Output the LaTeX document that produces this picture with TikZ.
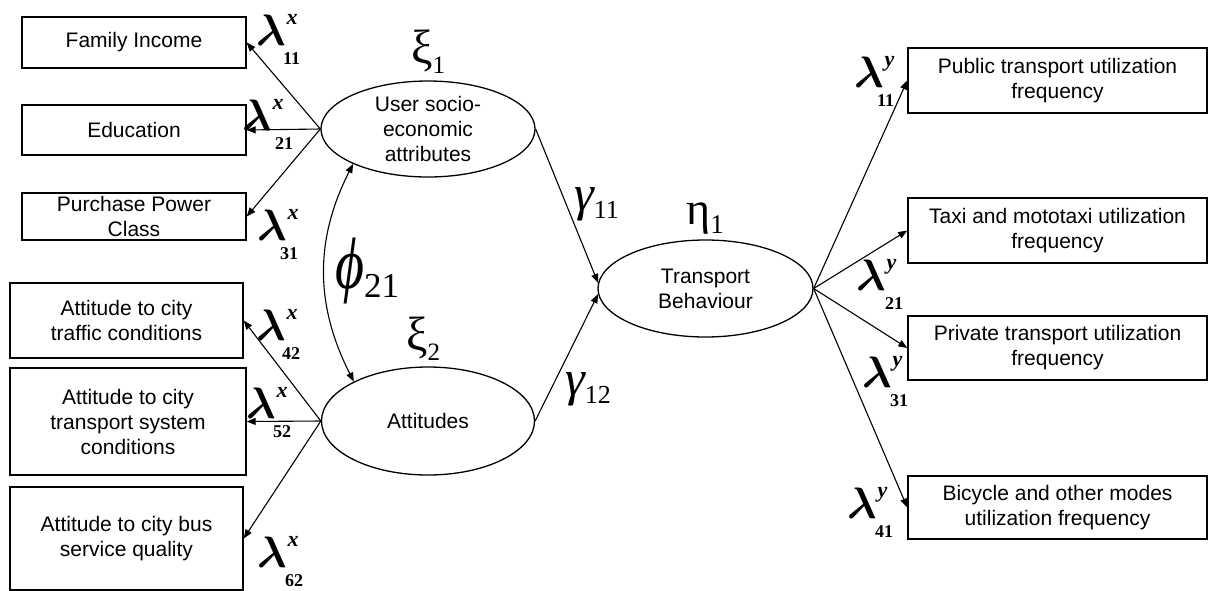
\documentclass[tikz,border=0pt]{standalone}
\usepackage{graphicx}
\usepackage{amsmath}
\usepackage{fontspec}
\setmainfont{Liberation Sans}
\newfontfamily\serifgk{Liberation Serif}
\usetikzlibrary{arrows.meta,shapes.geometric}

% loading coefficient: lambda with superscript and bold subscript
% #1 superscript letter, #2 subscript digits, #3 horizontal offset of the subscript
\newcommand\lamlab[3]{{\serifgk\bfseries\itshape
  \rlap{\kern#3\raisebox{-19pt}{\fontsize{18}{18}\selectfont\upshape #2}}%
  \scalebox{4.4}{\normalsize$\boldsymbol{\lambda}$}%
  \kern1pt\raisebox{21pt}{\fontsize{22}{22}\selectfont #1}}}
% greek symbol with subscript: #1 glyph, #2 subscript, #3 size, #4 subscript size, #5 raise, #6 shape
\newcommand\grk[6]{{\serifgk#6\fontsize{#3}{#3}\selectfont\raisebox{#5}{#1}%
  \fontsize{#4}{#4}\selectfont\upshape #2}}

\begin{document}
\begin{tikzpicture}[x=1pt,y=-1pt,
  box/.style={draw,line width=1.4pt,inner sep=0pt,align=center,
    font=\fontsize{21}{25}\selectfont},
  latent/.style={ellipse,draw,line width=1.3pt,inner sep=0pt,align=center,
    font=\fontsize{21}{25}\selectfont},
  path/.style={line width=1.1pt,-{Triangle[length=9pt,width=7pt]}},
  coef/.style={inner sep=0pt,anchor=base west},
  sym/.style={inner sep=0pt,anchor=base west}]
\useasboundingbox (0,0) rectangle (1214,590);
\clip (0,0) rectangle (1214,590);

% observed indicators of the exogenous constructs
\node[box,minimum width=224pt,minimum height=51pt] (fam) at (134,42.5) {Family Income};
\node[box,minimum width=224pt,minimum height=50pt] (edu) at (134,130) {Education};
\node[box,minimum width=224pt,minimum height=47pt] (ppc) at (134,216.5) {Purchase Power\\Class};
\node[box,minimum width=233pt,minimum height=75pt] (att1) at (126.5,320.5) {Attitude to city\\traffic conditions};
\node[box,minimum width=236pt,minimum height=107pt] (att2) at (128,421.5) {Attitude to city\\transport system\\conditions};
\node[box,minimum width=233pt,minimum height=103pt] (att3) at (126.5,538.5) {Attitude to city bus\\service quality};

% observed indicators of the endogenous construct
\node[box,minimum width=299pt,minimum height=65pt] (pub) at (1057.5,80.5) {Public transport utilization\\frequency};
\node[box,minimum width=299pt,minimum height=65pt] (taxi) at (1057.5,230.5) {Taxi and mototaxi utilization\\frequency};
\node[box,minimum width=299pt,minimum height=64pt] (priv) at (1057.5,348) {Private transport utilization\\frequency};
\node[box,minimum width=299pt,minimum height=63pt] (bike) at (1057.5,507.5) {Bicycle and other modes\\utilization frequency};

% latent constructs
\node[latent,minimum width=214pt,minimum height=96pt] (u) at (428,129) {User socio-\\economic\\attributes};
\node[latent,minimum width=213pt,minimum height=108pt] (a) at (428,421) {Attitudes};
\node[latent,minimum width=215pt,minimum height=97pt] (tb) at (705.5,288.5) {Transport\\Behaviour};

% measurement paths
\draw[path] (u.west) -- (fam.east);
\draw[path] (u.west) -- (edu.east);
\draw[path] (u.west) -- (ppc.east);
\draw[path] (a.west) -- (att1.east);
\draw[path] (a.west) -- (att2.east);
\draw[path] (a.west) -- (att3.east);
\draw[path] (tb.east) -- (pub.west);
\draw[path] (tb.east) -- (taxi.west);
\draw[path] (tb.east) -- (priv.west);
\draw[path] (tb.east) -- (bike.west);

% structural paths and covariance
\draw[path] (u.east) -- (tb.177);
\draw[path] (a.east) -- (tb.183);
\draw[line width=1.1pt,{Triangle[length=9pt,width=7pt]}-{Triangle[length=9pt,width=7pt]}]
  (u.205) to[out=243,in=117] (a.152);

% coefficient labels
\node[coef] (l11x) at (256,45) {\lamlab{x}{11}{27pt}};
\node[coef] (l21x) at (242,130) {\lamlab{x}{21}{33pt}};
\node[coef] (l31x) at (257,240) {\lamlab{x}{31}{23pt}};
\node[coef] (l42x) at (256,340) {\lamlab{x}{42}{26pt}};
\node[coef] (l52x) at (246,418) {\lamlab{x}{52}{27pt}};
\node[coef] (l62x) at (257,567) {\lamlab{x}{62}{28pt}};
\node[coef] (l11y) at (854,87) {\lamlab{y}{11}{23pt}};
\node[coef] (l21y) at (856,290) {\lamlab{y}{21}{29pt}};
\node[coef] (l31y) at (862,387) {\lamlab{y}{31}{28pt}};
\node[coef] (l41y) at (847,518) {\lamlab{y}{41}{28pt}};

\node[sym] (xi1) at (411,73) {\grk{ξ}{1}{48}{25}{10pt}{}};
\node[sym] (xi2) at (406,360) {\grk{ξ}{2}{48}{25}{10pt}{}};
\node[sym] (eta1) at (686,233) {\grk{η}{1}{46}{27}{9pt}{}};
\node[sym] (g11) at (574,218) {\grk{γ}{11}{50}{26}{8pt}{\itshape}};
\node[sym] (g12) at (565,403) {\grk{γ}{12}{50}{26}{8pt}{\itshape}};
\node[sym] (phi) at (335,297) {\grk{\scalebox{1}[1.3]{ϕ}}{21}{56}{35}{9pt}{\itshape}};
\end{tikzpicture}
\end{document}
